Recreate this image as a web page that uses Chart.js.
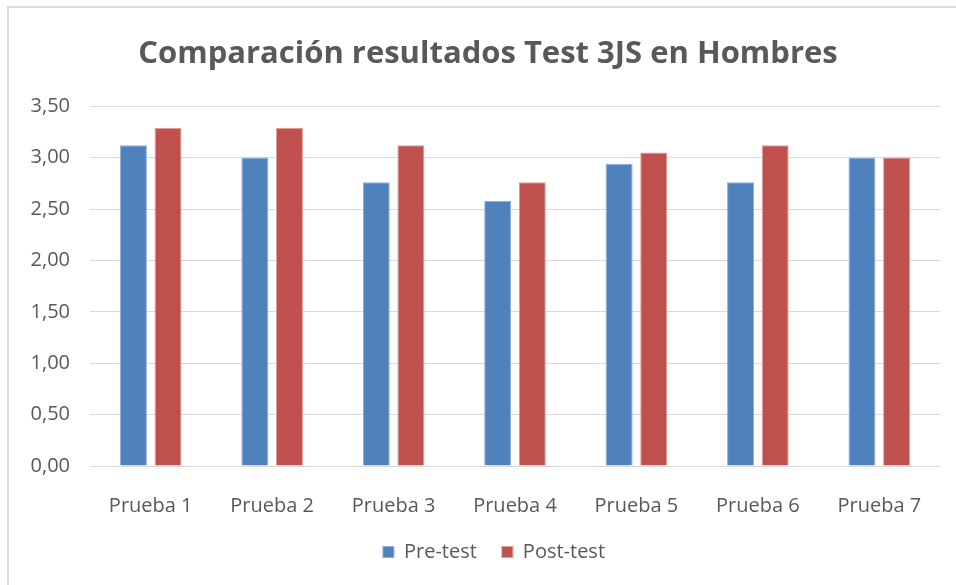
<!DOCTYPE html>
<html>
<head>
<meta charset="utf-8">
<script src="https://cdn.jsdelivr.net/npm/chart.js@4"></script>
<style>
  html, body { margin: 0; padding: 0; background: #fff; }
  #wrap { position: relative; width: 956px; height: 585px; }
  #frame { position: absolute; left: 7px; top: 6px; right: 0; bottom: 0;
           border-left: 2px solid #dadada; border-top: 2px solid #dadada; pointer-events: none; }
</style>
</head>
<body>
<div id="wrap">
  <canvas id="chart" width="956" height="585"></canvas>
  <div id="frame"></div>
</div>
<script>
// datos
const categorias = ['Prueba 1', 'Prueba 2', 'Prueba 3', 'Prueba 4', 'Prueba 5', 'Prueba 6', 'Prueba 7'];
const preTest    = [3.12, 3.00, 2.76, 2.58, 2.94, 2.76, 3.00];
const postTest   = [3.29, 3.29, 3.12, 2.76, 3.05, 3.12, 3.00];
const series     = ['Pre-test', 'Post-test'];

const gris = '#595959';
const fuente = 'Open Sans';

// título y leyenda algo desplazados a la derecha, como en el original
const desplazar = {
  id: 'desplazar',
  afterLayout(chart) {
    chart.titleBlock.left += 13; chart.titleBlock.right += 13;
    chart.legend.left += 19;     chart.legend.right += 19;
  },
};

new Chart(document.getElementById('chart'), {
  type: 'bar',
  data: {
    labels: categorias,
    datasets: [
      { label: series[0], data: preTest,  backgroundColor: '#4f81bd', borderColor: '#8eaedb', borderWidth: 1,
        categoryPercentage: 0.57, barPercentage: 0.78 },
      { label: series[1], data: postTest, backgroundColor: '#c0504d', borderColor: '#e09a98', borderWidth: 1,
        categoryPercentage: 0.57, barPercentage: 0.78 },
    ],
  },
  options: {
    responsive: false,
    animation: false,
    layout: { padding: { left: 10, right: 16, top: 0, bottom: 13 } },
    plugins: {
      title: {
        display: true,
        text: 'Comparación resultados Test 3JS en Hombres',
        color: gris,
        font: { family: fuente, size: 31, weight: 'bold', lineHeight: 1.2 },
        padding: { top: 36, bottom: 33 },
      },
      legend: {
        position: 'bottom',
        labels: {
          color: gris,
          font: { family: fuente, size: 20 },
          boxWidth: 11, boxHeight: 11,
          padding: 25,
        },
      },
      tooltip: { enabled: false },
    },
    scales: {
      x: {
        grid: { display: false },
        border: { display: false },
        ticks: { color: gris, font: { family: fuente, size: 20 }, padding: 20 },
        afterFit: s => { s.height = 51; },
      },
      y: {
        min: 0, max: 3.5,
        grid: { color: '#d9d9d9', drawTicks: false },
        border: { display: false },
        ticks: {
          stepSize: 0.5,
          color: gris,
          font: { family: fuente, size: 20 },
          padding: 20,
          callback: v => v.toFixed(2).replace('.', ','),
        },
        afterFit: s => { s.width = 80; },
      },
    },
  },
  plugins: [desplazar],
});
</script>
</body>
</html>
